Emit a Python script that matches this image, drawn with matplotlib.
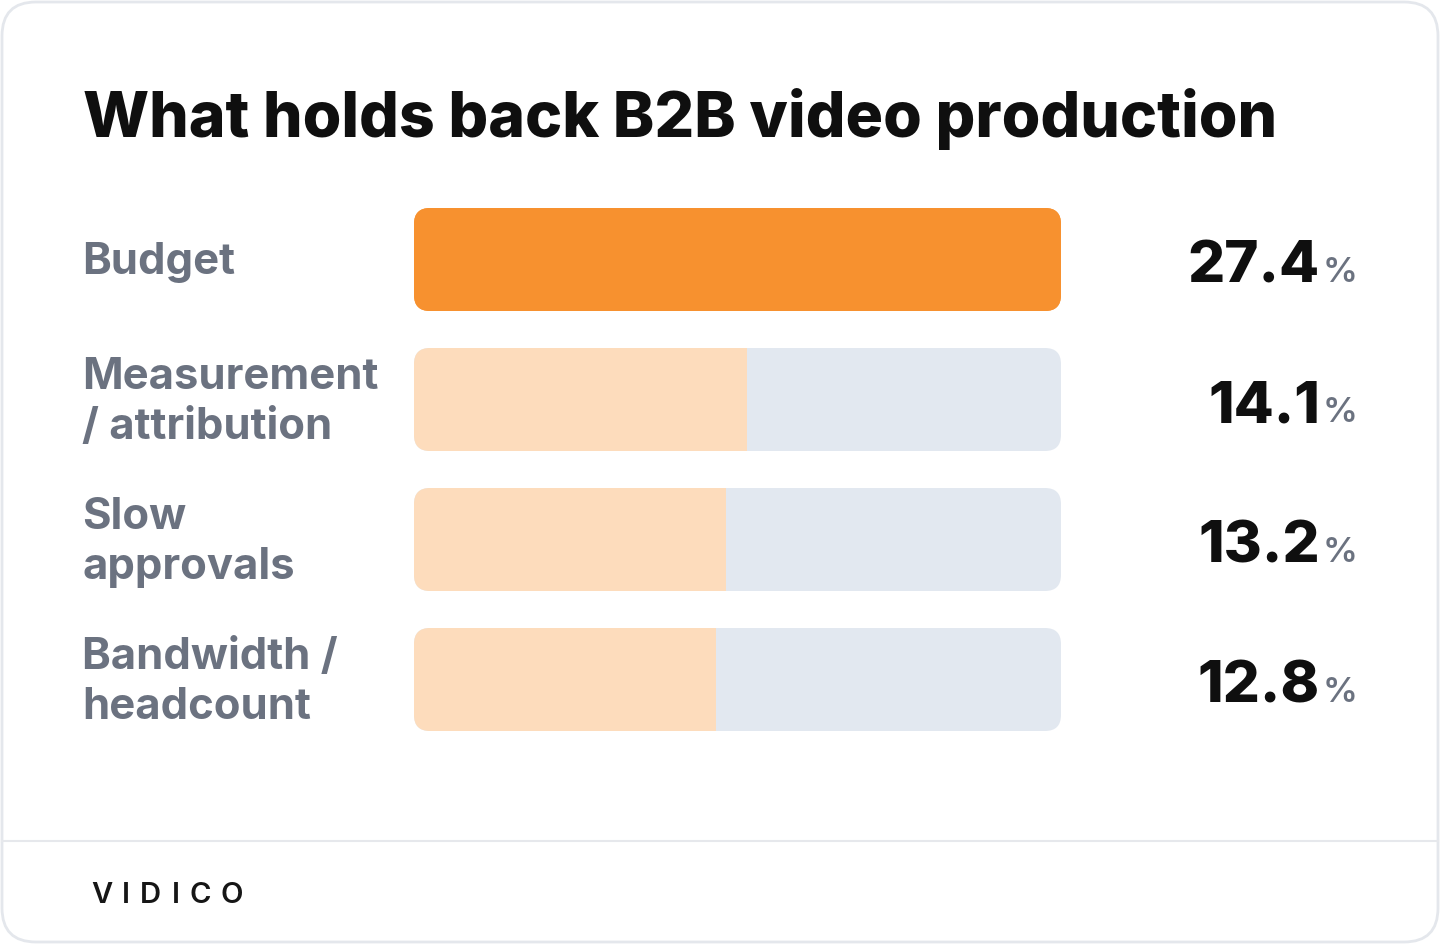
import matplotlib
matplotlib.use("Agg")
import matplotlib.pyplot as plt
from matplotlib.patches import FancyBboxPatch
from matplotlib.lines import Line2D

# data
categories = ["Budget", "Measurement\n/ attribution", "Slow\napprovals", "Bandwidth /\nheadcount"]
values = [27.4, 14.1, 13.2, 12.8]
value_labels = ["27.4", "14.1", "13.2", "12.8"]
title = "What holds back B2B video production"
brand = "VIDICO"

W, H = 1440, 944
ORANGE = "#F7912F"
LIGHT = "#FDDCBC"
TRACK = "#E2E8F0"
GREY = "#6B7280"
INK = "#0F0F0F"

plt.rcParams['font.family'] = ['Inter', 'DejaVu Sans']

fig = plt.figure(figsize=(W / 100, H / 100), dpi=100)
fig.patch.set_facecolor("white")

# background axes in pixel coords (y down)
bg = fig.add_axes([0, 0, 1, 1])
bg.set_xlim(0, W)
bg.set_ylim(H, 0)
bg.axis("off")

card = FancyBboxPatch((2, 2), W - 4, H - 4, boxstyle="round,pad=0,rounding_size=34",
                      facecolor="white", edgecolor="#E4E7EC", lw=2)
bg.add_patch(card)
bg.add_line(Line2D([2, W - 2], [841, 841], color="#E6E8EC", lw=1.5))

bg.text(83, 137, title, fontsize=45, fontweight="heavy", color=INK, va="baseline", ha="left")

# brand with letter spacing
bx = 91
for ch in brand:
    t = bg.text(bx, 903, ch, fontsize=21, fontweight="semibold", color="#161616", va="baseline", ha="left")
    fig.canvas.draw()
    bb = t.get_window_extent()
    bx += bb.width + 10

# bar axes
x0, x1 = 414, 1061
row_px = 140
top_center = 259.5
n = len(categories)
ax_top = top_center - row_px / 2
ax_h = row_px * n
ax = fig.add_axes([x0 / W, (H - ax_top - ax_h) / H, (x1 - x0) / W, ax_h / H])
vmax = max(values)
ax.set_xlim(0, vmax)
ax.set_ylim(n - 0.5, -0.5)
ax.axis("off")

bar_h = 103 / row_px
xu = vmax / (x1 - x0)
yu = 1 / row_px
radius = 16 * xu
aspect = yu / xu

for i, (cat, v) in enumerate(zip(categories, values)):
    track = FancyBboxPatch((0, i - bar_h / 2), vmax, bar_h,
                           boxstyle="round,pad=0,rounding_size=%f" % radius,
                           mutation_aspect=aspect, facecolor=TRACK if i else ORANGE,
                           edgecolor="none")
    ax.add_patch(track)
    bars = ax.barh([i], [v], height=bar_h, color=ORANGE if i == 0 else LIGHT, edgecolor="none")
    for b in bars:
        b.set_clip_path(track)

    cy = top_center + i * row_px
    bg.text(82, cy + 3, cat, fontsize=31.4, fontweight="bold", color=GREY,
            va="center", ha="left", linespacing=1.28)
    bg.text(1320, cy + 23, value_labels[i], fontsize=42, fontweight="heavy", color=INK,
            va="baseline", ha="right")
    bg.text(1323, cy + 23, "%", fontsize=25, fontweight="semibold", color=GREY,
            va="baseline", ha="left")

fig.savefig("out.png", dpi=100, facecolor="white")
